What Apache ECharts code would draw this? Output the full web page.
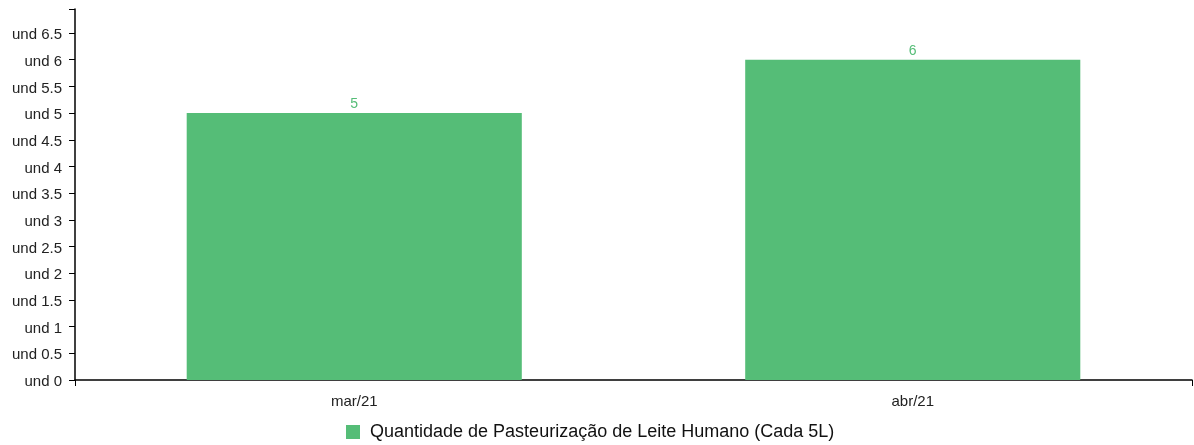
<!DOCTYPE html>
<html><head><meta charset="utf-8">
<script src="https://cdn.jsdelivr.net/npm/echarts@6/dist/echarts.min.js"></script>
<style>html,body{margin:0;padding:0;background:#fff}#c{width:1194px;height:445px}</style>
</head><body><div id="c"></div>
<script>
const categories = ['mar/21', 'abr/21'];
const values = [5, 6];
const seriesName = 'Quantidade de Pasteurização de Leite Humano (Cada 5L)';
const yMax = 6.95;
const yStep = 0.5;

const chart = echarts.init(document.getElementById('c'));
const font = 'Liberation Sans, Arial, sans-serif';
chart.setOption({
  animation: false,
  grid: { left: 75, right: 2, top: 9, bottom: 65, containLabel: false },
  legend: {
    bottom: -1, left: 341, itemWidth: 14, itemHeight: 14, icon: 'rect', itemGap: 10,
    textStyle: { fontFamily: font, fontSize: 18, color: '#111', padding: [0, 0, 0, 5] },
    data: [seriesName]
  },
  xAxis: [{
    type: 'category', data: categories,
    axisLine: { lineStyle: { color: '#000', width: 1.5 } },
    axisTick: { alignWithLabel: true, length: 6, lineStyle: { color: '#000' } },
    axisLabel: { fontFamily: font, fontSize: 15, color: '#222', margin: 14 }
  }, {
    type: 'value', min: 0, max: 1, interval: 1, position: 'bottom',
    axisLine: { show: false }, splitLine: { show: false },
    axisTick: { show: true, length: 6, lineStyle: { color: '#000' } },
    axisLabel: { show: false }
  }],
  yAxis: [{
    type: 'value', min: 0, max: yMax, interval: yStep,
    axisLine: { show: true, lineStyle: { color: '#000', width: 1.5 } },
    axisTick: { show: true, length: 6, lineStyle: { color: '#000' } },
    splitLine: { show: false },
    axisLabel: {
      margin: 13, showMaxLabel: false,
      formatter: v => '{a|und ' + v + '}',
      rich: { a: { fontFamily: font, fontSize: 15, color: '#222', padding: [4, 0, 0, 0] } }
    }
  }, {
    type: 'value', min: 0, max: 1, interval: 1, position: 'left',
    axisLine: { show: false }, splitLine: { show: false },
    axisTick: { show: true, length: 6, lineStyle: { color: '#000' } },
    axisLabel: { show: false }
  }],
  series: [{
    name: seriesName, type: 'bar', data: values, barWidth: '60%',
    itemStyle: { color: '#55bd77' },
    label: { show: true, position: 'top', distance: 2, color: '#55bd77', fontFamily: font, fontSize: 14 }
  }]
});
</script></body></html>
